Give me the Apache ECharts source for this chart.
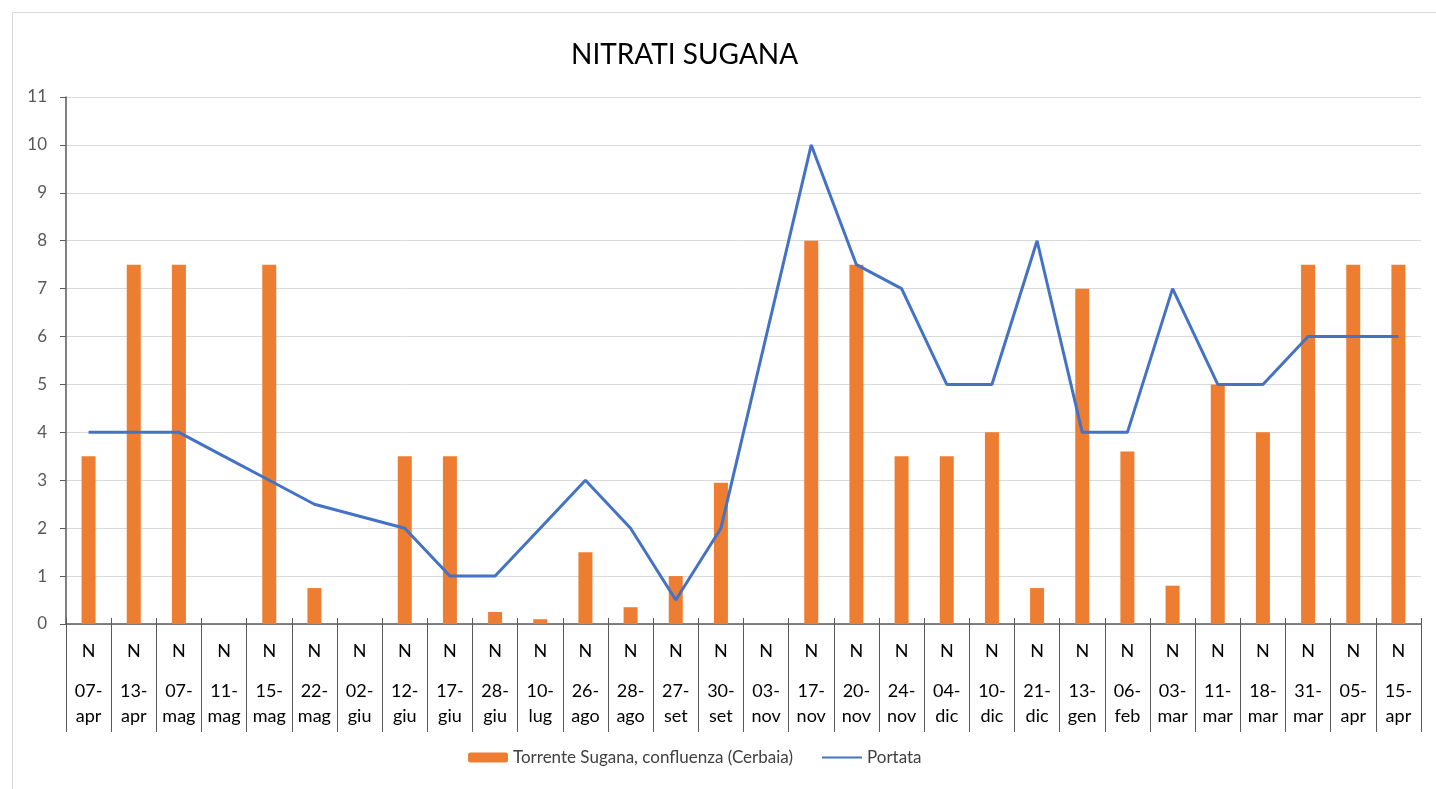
<!DOCTYPE html>
<html>
<head>
<meta charset="utf-8">
<script src="https://cdn.jsdelivr.net/npm/echarts@6/dist/echarts.min.js"></script>
<style>
html, body { margin: 0; padding: 0; background: #fff; }
#chart { width: 1436px; height: 789px; }
</style>
</head>
<body>
<div id="chart"></div>
<script>
// dati
const dates = ['07-apr', '13-apr', '07-mag', '11-mag', '15-mag', '22-mag', '02-giu', '12-giu', '17-giu', '28-giu',
  '10-lug', '26-ago', '28-ago', '27-set', '30-set', '03-nov', '17-nov', '20-nov', '24-nov', '04-dic',
  '10-dic', '21-dic', '13-gen', '06-feb', '03-mar', '11-mar', '18-mar', '31-mar', '05-apr', '15-apr']
const nitrati = [3.5, 7.5, 7.5, null, 7.5, 0.75, null, 3.5, 3.5, 0.25,
  0.1, 1.5, 0.35, 1.0, 2.95, null, 8, 7.5, 3.5, 3.5,
  4, 0.75, 7, 3.6, 0.8, 5, 4, 7.5, 7.5, 7.5]
const portata = [4, 4, 4, 3.5, 3, 2.5, 2.25, 2, 1, 1,
  2, 3, 2, 0.5, 2, 6, 10, 7.5, 7, 5,
  5, 8, 4, 4, 7, 5, 5, 6, 6, 6]
const yTicks = { min: 0, max: 11, step: 1 }

const font = 'Lato'
const axisColor = '#595959'

let chart = echarts.init(document.getElementById('chart'))
let option = {
  backgroundColor: '#fff',
  textStyle: { fontFamily: font },
  animation: false,
  title: {
    text: 'NITRATI SUGANA',
    left: 566,
    top: 36,
    textStyle: { fontFamily: font, fontSize: 28, fontWeight: 'normal', color: '#000' }
  },
  graphic: [{
    type: 'rect',
    left: 10,
    top: 10,
    shape: { width: 1440, height: 800 },
    style: { fill: 'none', stroke: '#d9d9d9', lineWidth: 1 },
    silent: true
  }],
  legend: {
    left: 463,
    top: 744,
    itemWidth: 40,
    itemHeight: 10,
    itemGap: 28,
    textStyle: { fontFamily: font, fontSize: 17, color: '#404040' },
    data: [
      'Torrente Sugana, confluenza (Cerbaia)',
      { name: 'Portata', itemStyle: { opacity: 0 } }
    ]
  },
  grid: { left: 66, right: 15, top: 97, bottom: 165 },
  xAxis: [
    {
      type: 'category',
      data: dates,
      axisLine: { lineStyle: { color: axisColor, width: 1.5 } },
      axisTick: { show: true, interval: 0, length: 108, lineStyle: { color: axisColor } },
      axisLabel: {
        interval: 0,
        margin: 17,
        fontFamily: font,
        fontSize: 18,
        lineHeight: 20,
        color: '#000',
        formatter: () => 'N'
      }
    },
    {
      type: 'category',
      data: dates,
      position: 'bottom',
      axisLine: { show: false },
      axisTick: { show: true, interval: 0, inside: true, length: 6, lineStyle: { color: axisColor } },
      axisLabel: {
        interval: 0,
        margin: 55,
        fontFamily: font,
        fontSize: 18,
        lineHeight: 25,
        color: '#000',
        formatter: v => v.replace('-', '-\n')
      }
    }
  ],
  yAxis: {
    type: 'value',
    min: yTicks.min,
    max: yTicks.max,
    interval: yTicks.step,
    axisLine: { show: true, lineStyle: { color: axisColor, width: 1.5 } },
    axisTick: { show: true, length: 6, lineStyle: { color: axisColor } },
    axisLabel: { margin: 19, fontFamily: font, fontSize: 17, color: axisColor },
    splitLine: { lineStyle: { color: '#d9d9d9', width: 1 } }
  },
  series: [
    {
      name: 'Torrente Sugana, confluenza (Cerbaia)',
      type: 'bar',
      data: nitrati,
      barWidth: 14,
      itemStyle: { color: '#ED7D31' }
    },
    {
      name: 'Portata',
      type: 'line',
      data: portata,
      symbol: 'none',
      lineStyle: { color: '#4472C4', width: 3 },
      itemStyle: { color: '#4472C4' }
    }
  ]
}
chart.setOption(option)
</script>
</body>
</html>
